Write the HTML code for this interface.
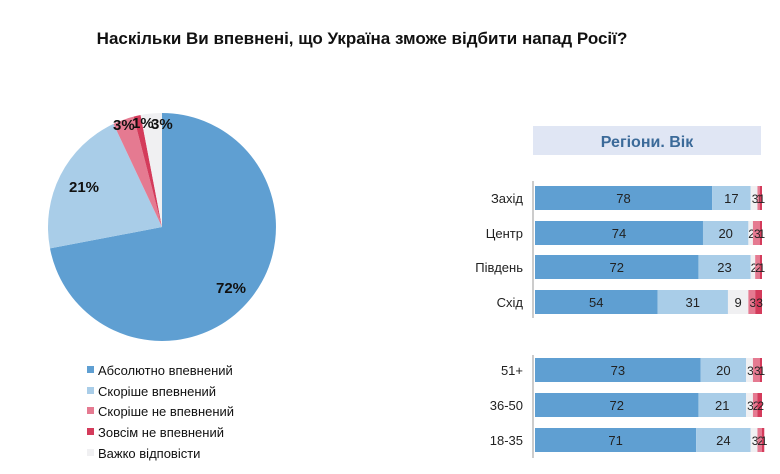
<!DOCTYPE html>
<html><head><meta charset="utf-8"><style>
body{margin:0;background:#fff;width:780px;height:469px;overflow:hidden;font-family:"Liberation Sans",Arial,sans-serif}
</style></head><body>
<svg width="780" height="469" xmlns="http://www.w3.org/2000/svg" font-family="Liberation Sans, Arial, sans-serif">
<text x="362" y="44" font-size="17" font-weight="bold" text-anchor="middle" fill="#111">Наскільки Ви впевнені, що Україна зможе відбити напад Росії?</text>
<path d="M162,227 L162,113 A114,114 0 1 1 50.0,248.4 Z" fill="#5f9fd2"/>
<path d="M162,227 L50.0,248.4 A114,114 0 0 1 113.5,123.9 Z" fill="#a9cde8"/>
<path d="M162,227 L113.5,123.9 A114,114 0 0 1 133.6,116.6 Z" fill="#e57a91"/>
<path d="M162,227 L133.6,116.6 A114,114 0 0 1 140.6,115.0 Z" fill="#d43b5b"/>
<path d="M162,227 L140.6,115.0 A114,114 0 0 1 162,113 Z" fill="#f0f0f2"/>
<g font-size="15" font-weight="bold" fill="#111">
<text x="216" y="293">72%</text><text x="69" y="192">21%</text>
<text x="113" y="130">3%</text><text x="132" y="128">1%</text><text x="151" y="129">3%</text>
</g>
<g font-size="13" fill="#111">
<rect x="87" y="366" width="7" height="7" fill="#5f9fd2"/><text x="98" y="375">Абсолютно впевнений</text>
<rect x="87" y="387" width="7" height="7" fill="#a9cde8"/><text x="98" y="396">Скоріше впевнений</text>
<rect x="87" y="407" width="7" height="7" fill="#e57a91"/><text x="98" y="416">Скоріше не впевнений</text>
<rect x="87" y="428" width="7" height="7" fill="#d43b5b"/><text x="98" y="437">Зовсім не впевнений</text>
<rect x="87" y="449" width="7" height="7" fill="#f0f0f2"/><text x="98" y="458">Важко відповісти</text>
</g>
<rect x="533" y="126" width="228" height="29" fill="#e0e6f4"/>
<text x="647" y="147" font-size="16" font-weight="bold" fill="#3b6a99" text-anchor="middle">Регіони. Вік</text>
<line x1="533" y1="181" x2="533" y2="318" stroke="#999"/>
<line x1="533" y1="355" x2="533" y2="458" stroke="#999"/>
<g id="bars" font-size="13" fill="#222"></g>
</svg>
<script>
const rows=[["Захід",198,[78,17,3,1,1]],["Центр",233,[74,20,2,3,1]],["Південь",267,[72,23,2,2,1]],["Схід",302,[54,31,9,3,3]],["51+",370,[73,20,3,3,1]],["36-50",405,[72,21,3,2,2]],["18-35",440,[71,24,3,2,1]]];
const cols=["#5f9fd2","#a9cde8","#f0f0f2","#e57a91","#d43b5b"];
const g=document.getElementById("bars");let h="";const s=2.27;
for(const [n,y,v] of rows){h+=`<text x="523" y="${y+5}" text-anchor="end">${n}</text>`;let x=535;
v.forEach((d,i)=>{const w=d*s;h+=`<rect x="${x}" y="${y-12}" width="${w}" height="24" fill="${cols[i]}"/>`;
h+=`<text x="${x+w/2}" y="${y+5}" text-anchor="middle" ${d<5?'font-size="12" letter-spacing="-2"':''}>${d}</text>`;x+=w;});}
g.innerHTML=h;
</script>
</body></html>
